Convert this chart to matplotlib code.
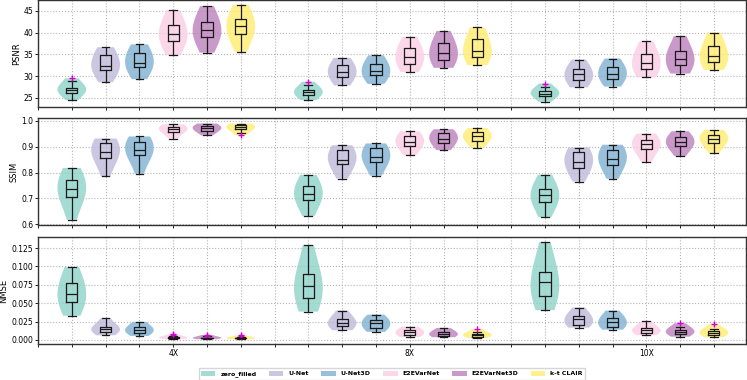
import numpy as np
import matplotlib.pyplot as plt
from matplotlib import cbook
from matplotlib.patches import Patch

methods = ["zero_filled", "U-Net", "U-Net3D", "E2EVarNet", "E2EVarNet3D", "k-t CLAIR"]
accels = ["4X", "8X", "10X"]
colors = ["#8dd3c7", "#bebada", "#80b1d3", "#fccde5", "#bc80bd", "#ffed6f"]

# sample values per method (rows)
psnr_4x = [
    [24.5, 25.6, 26.2, 26.6, 26.8, 27.0, 27.3, 27.9, 28.8],
    [28.6, 30.6, 31.5, 32.0, 32.3, 33.2, 34.75, 35.8, 36.65],
    [29.3, 31.0, 32.0, 32.6, 33.1, 34.0, 35.4, 36.4, 37.3],
    [34.8, 37.0, 38.1, 39.0, 39.6, 40.5, 41.7, 43.2, 45.2],
    [35.4, 37.6, 38.9, 39.8, 40.5, 41.3, 42.5, 44.0, 46.1],
    [35.6, 38.2, 39.6, 40.6, 41.5, 42.2, 43.1, 44.6, 46.4],
]
psnr_8x = [
    [24.5, 25.2, 25.6, 26.0, 26.25, 26.5, 26.8, 27.3, 27.9],
    [27.85, 29.0, 29.7, 30.5, 31.0, 31.6, 32.5, 33.3, 34.2],
    [28.2, 29.4, 30.15, 30.7, 31.1, 31.9, 32.9, 33.8, 34.8],
    [30.9, 32.1, 32.9, 33.8, 34.4, 35.4, 36.5, 37.6, 39.0],
    [31.9, 33.0, 33.7, 34.6, 35.3, 36.3, 37.5, 38.8, 40.4],
    [32.5, 33.6, 34.4, 35.2, 35.8, 37.0, 38.5, 39.8, 41.2],
]
psnr_10x = [
    [24.1, 25.0, 25.5, 25.8, 26.0, 26.2, 26.5, 26.9, 27.4],
    [27.4, 28.3, 29.0, 29.8, 30.4, 30.9, 31.6, 32.6, 33.8],
    [27.6, 28.6, 29.45, 30.1, 30.6, 31.3, 32.1, 33.0, 34.05],
    [29.7, 30.8, 31.6, 32.5, 33.1, 34.0, 35.1, 36.5, 38.1],
    [30.6, 31.6, 32.45, 33.4, 34.0, 34.8, 35.8, 37.4, 39.2],
    [31.4, 32.5, 33.3, 34.0, 34.6, 35.6, 36.9, 38.4, 40.0],
]
psnr_fliers = [[[29.5], [28.7], [28.3]]] + [[[], [], []] for _ in range(5)]

ssim_4x = [
    [0.618, 0.680, 0.707, 0.724, 0.735, 0.750, 0.770, 0.795, 0.818],
    [0.785, 0.835, 0.857, 0.870, 0.880, 0.895, 0.913, 0.924, 0.932],
    [0.796, 0.845, 0.868, 0.880, 0.888, 0.902, 0.919, 0.931, 0.940],
    [0.932, 0.950, 0.959, 0.964, 0.968, 0.973, 0.978, 0.983, 0.987],
    [0.944, 0.956, 0.963, 0.968, 0.972, 0.976, 0.981, 0.986, 0.990],
    [0.955, 0.964, 0.969, 0.974, 0.978, 0.981, 0.984, 0.987, 0.990],
]
ssim_8x = [
    [0.632, 0.672, 0.693, 0.707, 0.717, 0.730, 0.747, 0.768, 0.791],
    [0.777, 0.815, 0.833, 0.843, 0.850, 0.866, 0.887, 0.898, 0.906],
    [0.788, 0.825, 0.842, 0.852, 0.859, 0.875, 0.894, 0.905, 0.913],
    [0.868, 0.890, 0.903, 0.912, 0.920, 0.929, 0.940, 0.950, 0.960],
    [0.887, 0.905, 0.915, 0.925, 0.932, 0.941, 0.953, 0.961, 0.968],
    [0.897, 0.914, 0.924, 0.933, 0.940, 0.948, 0.957, 0.965, 0.973],
]
ssim_10x = [
    [0.628, 0.665, 0.688, 0.702, 0.712, 0.722, 0.736, 0.762, 0.792],
    [0.765, 0.800, 0.818, 0.832, 0.841, 0.857, 0.878, 0.889, 0.897],
    [0.776, 0.812, 0.831, 0.844, 0.853, 0.867, 0.887, 0.899, 0.908],
    [0.840, 0.873, 0.890, 0.901, 0.909, 0.917, 0.927, 0.939, 0.951],
    [0.864, 0.890, 0.904, 0.911, 0.917, 0.925, 0.936, 0.948, 0.960],
    [0.876, 0.900, 0.914, 0.924, 0.931, 0.938, 0.946, 0.955, 0.965],
]
ssim_fliers = [[[], [], []] for _ in range(5)] + [[[0.946], [], []]]

nmse_4x = [
    [0.033, 0.044, 0.051, 0.057, 0.062, 0.069, 0.078, 0.088, 0.099],
    [0.0064, 0.0095, 0.0113, 0.0135, 0.0154, 0.0165, 0.018, 0.023, 0.0296],
    [0.0055, 0.0082, 0.010, 0.012, 0.014, 0.0155, 0.0173, 0.021, 0.0246],
    [0.0012, 0.0020, 0.0025, 0.0028, 0.0030, 0.0033, 0.0036, 0.0044, 0.0052],
    [0.0010, 0.0017, 0.0021, 0.0024, 0.0026, 0.0029, 0.0032, 0.0040, 0.0048],
    [0.0010, 0.0016, 0.0020, 0.0022, 0.0024, 0.0027, 0.0030, 0.0037, 0.0045],
]
nmse_8x = [
    [0.0386, 0.050, 0.0569, 0.066, 0.0733, 0.080, 0.0896, 0.106, 0.129],
    [0.0132, 0.0165, 0.0187, 0.021, 0.0236, 0.026, 0.029, 0.034, 0.040],
    [0.011, 0.014, 0.016, 0.020, 0.0228, 0.025, 0.0273, 0.031, 0.0345],
    [0.004, 0.0055, 0.0064, 0.0088, 0.0105, 0.012, 0.0136, 0.016, 0.018],
    [0.0037, 0.0045, 0.005, 0.0072, 0.0086, 0.0098, 0.0113, 0.014, 0.0164],
    [0.0027, 0.0038, 0.0045, 0.0058, 0.0068, 0.0077, 0.0086, 0.0098, 0.011],
]
nmse_10x = [
    [0.0405, 0.052, 0.0596, 0.070, 0.0787, 0.085, 0.093, 0.110, 0.133],
    [0.0168, 0.019, 0.0205, 0.025, 0.0282, 0.030, 0.0327, 0.038, 0.044],
    [0.014, 0.016, 0.018, 0.022, 0.025, 0.027, 0.0296, 0.035, 0.040],
    [0.0064, 0.0085, 0.010, 0.012, 0.0136, 0.015, 0.0164, 0.020, 0.0255],
    [0.0045, 0.0065, 0.0078, 0.0098, 0.0113, 0.0125, 0.014, 0.016, 0.018],
    [0.0037, 0.0052, 0.0064, 0.0085, 0.010, 0.0115, 0.0127, 0.014, 0.015],
]
nmse_fliers = [
    [[], [], []],
    [[], [], []],
    [[], [], []],
    [[0.0065, 0.0082], [], []],
    [[0.0058, 0.0068], [], [0.0228]],
    [[0.0053, 0.0062], [0.015], [0.0214]],
]

panels = [
    ("PSNR", [psnr_4x, psnr_8x, psnr_10x], psnr_fliers, (22.9, 47.5), [25, 30, 35, 40, 45]),
    ("SSIM", [ssim_4x, ssim_8x, ssim_10x], ssim_fliers, (0.597, 1.0115), [0.6, 0.7, 0.8, 0.9, 1.0]),
    ("NMSE", [nmse_4x, nmse_8x, nmse_10x], nmse_fliers, (-0.0055, 0.140), [0, 0.025, 0.05, 0.075, 0.1, 0.125]),
]

line_c = "#1a1a1a"
fig = plt.figure(figsize=(7.47, 3.80), dpi=100)
boxes = [[0.0509, 0.7184, 0.9478, 0.2816],
         [0.0509, 0.4079, 0.9478, 0.2816],
         [0.0509, 0.0947, 0.9478, 0.2816]]

axes = []
for k, (name, groups, fliers, ylim, yticks) in enumerate(panels):
    ax = fig.add_axes(boxes[k])
    axes.append(ax)
    ax.set_axisbelow(True)
    ax.grid(True, linestyle=":", color="#b5b5b5", linewidth=0.8)
    for g, samples in enumerate(groups):
        for i, s in enumerate(samples):
            pos = 7 * g + i
            fl = fliers[i][g]
            vp = ax.violinplot(s + fl, positions=[pos], widths=0.85,
                               showextrema=False, bw_method=0.95)
            for b in vp["bodies"]:
                b.set_facecolor(colors[i])
                b.set_edgecolor("none")
                b.set_alpha(0.8)
            st = cbook.boxplot_stats(s, whis=(0, 100))[0]
            st["fliers"] = fl
            ax.bxp([st], positions=[pos], widths=0.33, capwidths=0.23,
                   manage_ticks=False,
                   boxprops=dict(color=line_c, linewidth=0.9),
                   whiskerprops=dict(color=line_c, linewidth=0.9),
                   capprops=dict(color=line_c, linewidth=0.9),
                   medianprops=dict(color=line_c, linewidth=0.9),
                   flierprops=dict(marker="+", markeredgecolor="#d400d4",
                                   markersize=4, linestyle="none"))
    ax.set_xlim(-1, 19.95)
    ax.set_ylim(*ylim)
    ax.set_yticks(yticks)
    ax.set_xticks(range(-1, 20))
    ax.set_ylabel(name, fontsize=6, labelpad=2)
    ax.tick_params(labelsize=5.5, length=2, width=0.6, pad=1.5)
    for sp in ax.spines.values():
        sp.set_color("#333333")
        sp.set_linewidth(1.0)
    if k < 2:
        ax.set_xticklabels([])
    else:
        labels = ["" for _ in range(-1, 20)]
        for g, a in enumerate(accels):
            labels[7 * g + 3 + 1] = a
        ax.set_xticklabels(labels)
        ax.set_yticklabels(["0.000", "0.025", "0.050", "0.075", "0.100", "0.125"])

handles = [Patch(facecolor=c, alpha=0.8, edgecolor="none", label=m) for m, c in zip(methods, colors)]
axes[2].legend(handles=handles, loc="center", bbox_to_anchor=(0.5, -0.28), ncol=6,
               prop=dict(size=4.5, weight="bold"), handlelength=2.3, handleheight=0.9,
               handletextpad=0.8, columnspacing=2.0, frameon=True, fancybox=False,
               edgecolor="#cccccc", borderpad=0.4)

fig.align_ylabels(axes)
fig.savefig("out.png", dpi=100)
